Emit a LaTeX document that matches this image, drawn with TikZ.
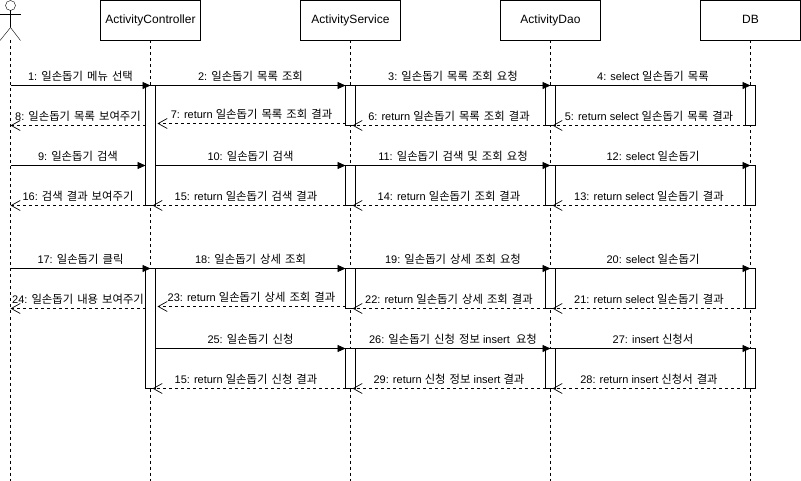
\documentclass[tikz,border=0pt]{standalone}
\usepackage{fontspec}
\setmainfont{Liberation Sans}
\newfontfamily\krfont[Scale=1.03,WordSpace=1.6]{Noto Sans CJK KR}
\newcommand{\kr}[1]{{\krfont #1}}
\usepackage{tikz}
\usetikzlibrary{arrows.meta,positioning}

\begin{document}
\begin{tikzpicture}[
    x=1pt, y=-1pt,
    node distance=100pt,
    obj/.style={rectangle, draw, minimum height=40pt, minimum width=100pt, outer sep=0pt, text height=9pt, text depth=2pt, font=\fontsize{12}{14}\selectfont},
    activ/.style={rectangle, draw, fill=white, minimum width=10pt, inner sep=0pt, outer sep=0pt},
    life/.style={dash pattern=on 3pt off 3pt, line width=0.9pt},
    call/.style={-{Triangle[length=8pt,width=7pt]}, line width=0.9pt},
    ret/.style={-{Straight Barb[length=9pt,width=10pt,line width=0.7pt]}, dash pattern=on 3pt off 3pt, line width=0.8pt},
    msg/.style={midway, above=2.5pt, inner sep=0pt, text height=9pt, text depth=2pt, font=\fontsize{11}{13}\selectfont},
]
\useasboundingbox (0,0) rectangle (801,481);

% Objects
\node[obj] (ctrl) at (150.5,20.5) {ActivityController};
\node[obj, right=of ctrl] (svc) {ActivityService};
\node[obj, right=of svc] (dao) {ActivityDao};
\node[obj, right=of dao] (db) {DB};

% Actor
\node[circle, draw, minimum size=10pt, inner sep=0pt, outer sep=0pt] (actor) at (10.5,5.5) {};
\coordinate (hip) at (10.5,27.5);
\coordinate (foot) at (10.5,40.5);
\coordinate (bottom) at (10.5,481);
\draw (actor.south) -- (hip);
\draw (0,14) -- (20.5,14);
\draw (0,40.5) -- (hip) -- (20.5,40.5);

% Lifelines
\draw[life] (foot) -- (bottom);
\draw[life] (ctrl.south) -- (ctrl |- bottom);
\draw[life] (svc.south) -- (svc |- bottom);
\draw[life] (dao.south) -- (dao |- bottom);
\draw[life] (db.south) -- (db |- bottom);

% Activations
\node[activ, minimum height=120pt, below=45pt of ctrl] (ca1) {};
\node[activ, minimum height=120pt, below=63pt of ca1] (ca2) {};

\node[activ, minimum height=40pt, below=45pt of svc] (sa1) {};
\node[activ, minimum height=40pt, below=40pt of sa1] (sa2) {};
\node[activ, minimum height=40pt, below=63pt of sa2] (sa3) {};
\node[activ, minimum height=40pt, below=40pt of sa3] (sa4) {};

\node[activ, minimum height=40pt, below=45pt of dao] (da1) {};
\node[activ, minimum height=40pt, below=40pt of da1] (da2) {};
\node[activ, minimum height=40pt, below=63pt of da2] (da3) {};
\node[activ, minimum height=40pt, below=40pt of da3] (da4) {};

\node[activ, minimum height=40pt, below=45pt of db] (ba1) {};
\node[activ, minimum height=40pt, below=40pt of ba1] (ba2) {};
\node[activ, minimum height=40pt, below=63pt of ba2] (ba3) {};
\node[activ, minimum height=40pt, below=40pt of ba3] (ba4) {};

% List
\draw[call] (actor |- ca1.north) -- node[msg] {1: \kr{일손돕기 메뉴 선택}} (ctrl |- ca1.north);
\draw[call] (ca1.north east) -- node[msg] {2: \kr{일손돕기 목록 조회}} (sa1.north west);
\draw[call] (sa1.north east) -- node[msg] {3: \kr{일손돕기 목록 조회 요청}} (dao |- sa1.north);
\draw[call] (da1.north east) -- node[msg] {4: select \kr{일손돕기 목록}} (db |- da1.north);
\draw[ret] (ba1.south west) -- node[msg] {5: return select \kr{일손돕기 목록 결과}} ([xshift=-3pt]da1.south east);
\draw[ret] (da1.south west) -- node[msg] {6: return \kr{일손돕기 목록 조회 결과}} ([xshift=-3pt]sa1.south east);
\draw[ret] ([yshift=2pt]sa1.south west) -- node[msg] {7: return \kr{일손돕기 목록 조회 결과}} ([shift={(2pt,2pt)}]ca1.east |- sa1.south);
\draw[ret] (ca1.west |- sa1.south) -- node[msg] {8: \kr{일손돕기 목록 보여주기}} (actor |- sa1.south);

% Search
\draw[call] (actor |- sa2.north) -- node[msg] {9: \kr{일손돕기 검색}} (ca1.west |- sa2.north);
\draw[call] (ca1.east |- sa2.north) -- node[msg] {10: \kr{일손돕기 검색}} (sa2.north west);
\draw[call] (sa2.north east) -- node[msg] {11: \kr{일손돕기 검색 및 조회 요청}} (dao |- sa2.north);
\draw[call] (da2.north east) -- node[msg] {12: select \kr{일손돕기}} (db |- da2.north);
\draw[ret] (ba2.south west) -- node[msg] {13: return select \kr{일손돕기 결과}} ([xshift=-3pt]da2.south east);
\draw[ret] (da2.south west) -- node[msg] {14: return \kr{일손돕기 조회 결과}} ([xshift=-3pt]sa2.south east);
\draw[ret] (sa2.south west) -- node[msg, xshift=-3pt] {15: return \kr{일손돕기 검색 결과}} ([xshift=-3pt]ca1.south east);
\draw[ret] (ca1.south west) -- node[msg] {16: \kr{검색 결과 보여주기}} (actor |- ca1.south);

% Detail
\draw[call] (actor |- ca2.north) -- node[msg] {17: \kr{일손돕기 클릭}} (ctrl |- ca2.north);
\draw[call] (ca2.north east) -- node[msg] {18: \kr{일손돕기 상세 조회}} (sa3.north west);
\draw[call] (sa3.north east) -- node[msg] {19: \kr{일손돕기 상세 조회 요청}} (dao |- sa3.north);
\draw[call] (da3.north east) -- node[msg] {20: select \kr{일손돕기}} (db |- da3.north);
\draw[ret] (ba3.south west) -- node[msg] {21: return select \kr{일손돕기 결과}} ([xshift=-3pt]da3.south east);
\draw[ret] (da3.south west) -- node[msg] {22: return \kr{일손돕기 상세 조회 결과}} ([xshift=-3pt]sa3.south east);
\draw[ret] ([yshift=2pt]sa3.south west) -- node[msg] {23: return \kr{일손돕기 상세 조회 결과}} ([shift={(2pt,2pt)}]ca2.east |- sa3.south);
\draw[ret] (ca2.west |- sa3.south) -- node[msg] {24: \kr{일손돕기 내용 보여주기}} (actor |- sa3.south);

% Apply
\draw[call] (ca2.east |- sa4.north) -- node[msg] {25: \kr{일손돕기 신청}} (sa4.north west);
\draw[call] (sa4.north east) -- node[msg] {26: \kr{일손돕기 신청 정보} insert~ \kr{요청}} (dao |- sa4.north);
\draw[call] (da4.north east) -- node[msg] {27: insert \kr{신청서}} (db |- da4.north);
\draw[ret] (ba4.south west) -- node[msg] {28: return insert \kr{신청서 결과}} ([xshift=-3pt]da4.south east);
\draw[ret] (da4.south west) -- node[msg] {29: return \kr{신청 정보} insert \kr{결과}} ([xshift=-3pt]sa4.south east);
\draw[ret] (sa4.south west) -- node[msg, xshift=-3pt] {15: return \kr{일손돕기 신청 결과}} ([xshift=-3pt]ca2.south east);

\end{tikzpicture}
\end{document}
